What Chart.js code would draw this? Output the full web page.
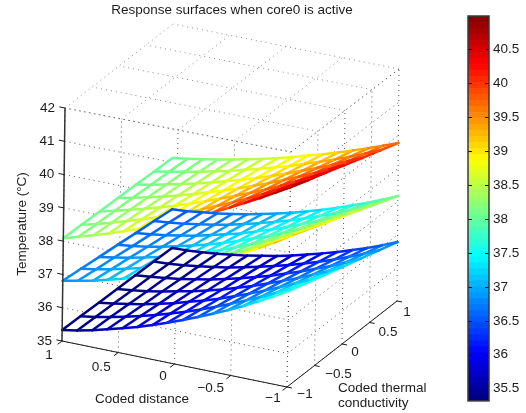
<!DOCTYPE html>
<html>
<head>
<meta charset="utf-8">
<style>
html,body{margin:0;padding:0;background:#fff;overflow:hidden}
#wrap{position:relative;width:526px;height:413px}
canvas{position:absolute;left:0;top:0}
</style>
<script src="https://cdn.jsdelivr.net/npm/chart.js@4/dist/chart.umd.min.js"></script>
</head>
<body>
<div id="wrap"><canvas id="main" width="526" height="413"></canvas><canvas id="bar" width="526" height="413"></canvas></div>
<script>
// ---- data ----
const titleText = 'Response surfaces when core0 is active';
const xLabelText = 'Coded distance';
const yLabelLines = ['Coded thermal', 'conductivity'];
const zLabelText = 'Temperature (°C)';
const xAxisTicks = [1, 0.5, 0, -0.5, -1];
const yAxisTicks = [-1, -0.5, 0, 0.5, 1];
const zAxisTicks = [35, 36, 37, 38, 39, 40, 41, 42];
const colorbarTicks = [35.5, 36, 36.5, 37, 37.5, 38, 38.5, 39, 39.5, 40, 40.5];
const colorMin = 35.32, colorMax = 40.99;

const xGrid = [1, .867, .733, .6, .467, .333, .2, .067, -.067, -.2, -.333, -.467, -.6, -.733, -.867, -1];
const yGrid = [-1, -.667, -.333, 0, .333, .667, 1];

const topSurface = [
 [38.09,38.22,38.36,38.50,38.66,38.82,38.99,39.18,39.37,39.57,39.77,39.99,40.22,40.45,40.70,40.95],
 [38.08,38.19,38.32,38.46,38.60,38.75,38.91,39.08,39.26,39.45,39.64,39.85,40.06,40.28,40.51,40.75],
 [38.06,38.17,38.29,38.41,38.54,38.68,38.83,38.99,39.16,39.33,39.51,39.70,39.90,40.11,40.33,40.56],
 [38.05,38.15,38.25,38.36,38.48,38.61,38.75,38.89,39.05,39.21,39.38,39.56,39.75,39.94,40.15,40.36],
 [38.04,38.12,38.22,38.32,38.42,38.54,38.67,38.80,38.94,39.09,39.25,39.42,39.59,39.77,39.97,40.16],
 [38.02,38.10,38.18,38.27,38.37,38.47,38.59,38.71,38.84,38.97,39.12,39.27,39.43,39.60,39.78,39.97],
 [38.01,38.07,38.14,38.22,38.31,38.40,38.50,38.61,38.73,38.86,38.99,39.13,39.28,39.43,39.60,39.77]
];
const midSurface = [
 [36.81,36.90,36.99,37.11,37.23,37.38,37.53,37.69,37.88,38.07,38.28,38.50,38.73,38.97,39.22,39.50],
 [36.76,36.83,36.92,37.03,37.14,37.28,37.42,37.58,37.74,37.92,38.11,38.32,38.55,38.78,39.02,39.28],
 [36.70,36.77,36.85,36.95,37.05,37.17,37.30,37.45,37.61,37.78,37.96,38.15,38.36,38.58,38.82,39.05],
 [36.65,36.70,36.77,36.86,36.96,37.07,37.19,37.32,37.47,37.63,37.79,37.98,38.17,38.39,38.61,38.84],
 [36.59,36.64,36.70,36.78,36.86,36.97,37.08,37.19,37.34,37.48,37.64,37.82,37.99,38.19,38.40,38.62],
 [36.54,36.58,36.63,36.70,36.77,36.86,36.97,37.08,37.20,37.33,37.48,37.64,37.81,38.00,38.19,38.39],
 [36.48,36.51,36.56,36.61,36.68,36.76,36.85,36.95,37.06,37.19,37.32,37.47,37.63,37.79,37.98,38.17]
];
const bottomSurface = [
 [35.33,35.41,35.51,35.63,35.75,35.88,36.03,36.19,36.36,36.54,36.73,36.93,37.14,37.37,37.61,37.86],
 [35.33,35.40,35.49,35.59,35.70,35.82,35.96,36.10,36.26,36.43,36.61,36.80,37.00,37.21,37.44,37.68],
 [35.33,35.39,35.47,35.55,35.65,35.76,35.89,36.02,36.16,36.32,36.49,36.67,36.86,37.06,37.27,37.50],
 [35.33,35.38,35.44,35.52,35.61,35.70,35.81,35.93,36.07,36.21,36.37,36.54,36.71,36.90,37.10,37.32],
 [35.33,35.37,35.42,35.48,35.56,35.64,35.74,35.85,35.97,36.10,36.25,36.40,36.57,36.74,36.94,37.14],
 [35.33,35.35,35.39,35.45,35.51,35.58,35.67,35.77,35.88,36.00,36.13,36.27,36.42,36.59,36.77,36.96],
 [35.33,35.34,35.37,35.41,35.46,35.52,35.60,35.68,35.78,35.89,36.01,36.14,36.28,36.43,36.60,36.78]
];

// ---- view: screen position of the eight corners of the axes box ----
const Z0 = 35, Z1 = 42;
const box = {
  '-1,-1,0':[287,387], '-1,-1,1':[291,152],
  '1,-1,0':[62,341],   '1,-1,1':[65,108],
  '-1,1,0':[397,301],  '-1,1,1':[399,69],
  '1,1,0':[172,259],   '1,1,1':[173,24]
};
function project(x, y, z) {
  const tx = (x + 1) / 2, ty = (y + 1) / 2, tz = (z - Z0) / (Z1 - Z0);
  let px = 0, py = 0;
  for (const i of [0, 1]) for (const j of [0, 1]) for (const k of [0, 1]) {
    const w = (i ? tx : 1 - tx) * (j ? ty : 1 - ty) * (k ? tz : 1 - tz);
    const c = box[(i ? 1 : -1) + ',' + (j ? 1 : -1) + ',' + k];
    px += w * c[0]; py += w * c[1];
  }
  return { x: px, y: py };
}
const pt = (x, y, z) => Object.assign(project(x, y, z), { z });

function jet(z) {
  const v = Math.min(1, Math.max(0, (z - colorMin) / (colorMax - colorMin)));
  const cl = a => Math.round(255 * Math.min(1, Math.max(0, a)));
  return `rgb(${cl(Math.min(4*v-1.5, -4*v+4.5))},${cl(Math.min(4*v-.5, -4*v+3.5))},${cl(Math.min(4*v+.5, -4*v+2.5))})`;
}

const list = [];
function addLine(points, color, width, dash) {
  list.push({ data: points, showLine: true, pointRadius: 0, pointHoverRadius: 0, fill: false,
    borderColor: color, borderWidth: width, borderDash: dash || [], tension: 0, clip: false });
}
// dotted grid on the three far planes
const DOT = '#555';
const steps = xAxisTicks;
for (const v of steps) {
  addLine([pt(v, -1, Z1), pt(v, 1, Z1)], '#8a8a8a', 1, [1, 4]);
  addLine([pt(-1, v, Z1), pt(1, v, Z1)], '#8a8a8a', 1, [1, 4]);
  addLine([pt(v, -1, Z0), pt(v, -1, Z1)], DOT, 1, [1, 4]);
  addLine([pt(-1, v, Z0), pt(-1, v, Z1)], DOT, 1, [1, 4]);
}
for (const z of zAxisTicks) {
  addLine([pt(1, -1, z), pt(-1, -1, z)], DOT, 1, [1, 4]);
  addLine([pt(-1, -1, z), pt(-1, 1, z)], DOT, 1, [1, 4]);
}
// mesh surfaces, farthest first
function addSurface(s) {
  const rows = s.length, cols = s[0].length, outline = [];
  for (let c = 0; c < cols; c++) outline.push(pt(xGrid[c], yGrid[0], s[0][c]));
  for (let r = 1; r < rows; r++) outline.push(pt(xGrid[cols-1], yGrid[r], s[r][cols-1]));
  for (let c = cols - 2; c >= 0; c--) outline.push(pt(xGrid[c], yGrid[rows-1], s[rows-1][c]));
  for (let r = rows - 2; r > 0; r--) outline.push(pt(xGrid[0], yGrid[r], s[r][0]));
  outline.push(outline[0]);
  list.push({ data: outline, showLine: true, pointRadius: 0, borderWidth: 0, tension: 0, clip: false,
    fill: { target: 'shape' }, backgroundColor: '#fff', borderColor: 'rgba(0,0,0,0)' });
  const seg = { borderColor: c => {
    const d = c.chart.data.datasets[c.datasetIndex].data;
    return jet((d[c.p0DataIndex].z + d[c.p1DataIndex].z) / 2);
  } };
  const meshLine = pts => {
    list.push({ data: pts, showLine: true, pointRadius: 0, borderWidth: 2.5, tension: 0, clip: false,
      fill: false, borderColor: '#000', borderCapStyle: 'round', segment: seg });
  };
  for (let c = cols - 1; c >= 0; c--) meshLine(s.map((row, r) => pt(xGrid[c], yGrid[r], row[c])));
  for (let r = 0; r < rows; r++) meshLine(s[r].map((z, c) => pt(xGrid[c], yGrid[r], z)));
}
addSurface(topSurface);
addSurface(midSurface);
addSurface(bottomSurface);
// axis lines and ticks
const AX = '#1a1a1a';
addLine([pt(1, -1, Z0), pt(1, -1, Z1)], '#333', 1.5);
addLine([pt(1, -1, Z0), pt(-1, -1, Z0)], AX, 1);
addLine([pt(-1, -1, Z0), pt(-1, 1, Z0)], AX, 1);
for (const v of xAxisTicks) addLine([pt(v, -1, Z0), pt(v, -1.08, Z0)], AX, 1);
for (const v of yAxisTicks) addLine([pt(-1, v, Z0), pt(-1.045, v, Z0)], AX, 1);
for (const z of zAxisTicks) addLine([pt(1, -1, z), pt(1.05, -1, z)], AX, 1);
list.forEach((d, i) => { d.order = list.length - i; });

const INK = '#1c1c1c', FONT = 'Liberation Sans, Arial, sans-serif';
// label offsets from the tick position on the axis
const xLabelNudge = [[-13,14],[-17,14.5],[-11.5,12],[-20,12.5],[-14,11]];
const yLabelNudge = [[18,7],[24,8.5],[13,8],[18.5,9.5],[10,11]];
const fmt = v => String(v).replace('-', '\u2212');

const textPlugin = { id: 'text3d', afterDraw(chart) {
  const c = chart.ctx;
  c.save();
  c.fillStyle = INK;
  c.textBaseline = 'middle';
  c.textAlign = 'center';
  c.font = '13.5px ' + FONT;
  c.fillText(titleText, 232, 10);
  c.font = '13.5px ' + FONT;
  xAxisTicks.forEach((v, i) => {
    const p = project(v, -1, Z0);
    c.fillText(fmt(v), p.x + xLabelNudge[i][0], p.y + xLabelNudge[i][1]);
  });
  yAxisTicks.forEach((v, i) => {
    const p = project(-1, v, Z0);
    c.fillText(fmt(v), p.x + yLabelNudge[i][0], p.y + yLabelNudge[i][1]);
  });
  c.textAlign = 'right';
  zAxisTicks.forEach(z => {
    const p = project(1, -1, z);
    c.fillText(String(z), p.x - 10, p.y);
  });
  c.textAlign = 'center';
  c.fillText(xLabelText, 142, 399);
  c.textAlign = 'left';
  c.fillText(yLabelLines[0], 338, 388);
  c.fillText(yLabelLines[1], 338, 403);
  c.save();
  c.translate(22, 224);
  c.rotate(-Math.PI / 2);
  c.textAlign = 'center';
  c.fillText(zLabelText, 0, 0);
  c.restore();
  c.restore();
} };

new Chart(document.getElementById('main'), {
  type: 'scatter',
  data: { datasets: list },
  options: {
    responsive: false, animation: false, events: [],
    layout: { padding: 0 },
    plugins: { legend: { display: false }, tooltip: { enabled: false } },
    scales: {
      x: { type: 'linear', min: 0, max: 526, display: false },
      y: { type: 'linear', min: 0, max: 413, reverse: true, display: false }
    }
  },
  plugins: [textPlugin]
});

// ---- colour bar: 64 flat bands on a real value axis ----
const bandCount = 64;
const bandDatasets = [];
for (let i = 0; i < bandCount; i++) {
  const lo = colorMin + (colorMax - colorMin) * i / bandCount;
  const hi = colorMin + (colorMax - colorMin) * (i + 1) / bandCount;
  bandDatasets.push({ data: [[lo, hi]], backgroundColor: jet((lo + hi) / 2), borderWidth: 0,
    barPercentage: 1, categoryPercentage: 1, grouped: false });
}
const barFrame = { id: 'barFrame', afterDraw(chart) {
  const c = chart.ctx, a = chart.chartArea, s = chart.scales.y;
  c.save();
  c.strokeStyle = '#111'; c.lineWidth = 1;
  c.beginPath();
  colorbarTicks.forEach(v => {
    const y = Math.round(s.getPixelForValue(v)) + .5;
    c.moveTo(a.left, y); c.lineTo(a.left + 4, y);
    c.moveTo(a.right - 4, y); c.lineTo(a.right, y);
  });
  c.stroke();
  c.strokeStyle = '#3a3a3a'; c.lineWidth = 1.5;
  c.strokeRect(a.left, a.top, a.right - a.left, a.bottom - a.top);
  c.restore();
} };
new Chart(document.getElementById('bar'), {
  type: 'bar',
  data: { labels: ['level'], datasets: bandDatasets },
  options: {
    responsive: false, animation: false, events: [],
    layout: { padding: { left: 468, top: 16, bottom: 10, right: 0 } },
    plugins: { legend: { display: false }, tooltip: { enabled: false } },
    scales: {
      x: { display: false, offset: true, grid: { display: false } },
      y: {
        position: 'right', min: colorMin, max: colorMax,
        afterBuildTicks: s => { s.ticks = colorbarTicks.map(value => ({ value })); },
        afterFit: s => { s.width = 37; },
        border: { display: false },
        grid: { display: false, drawTicks: false },
        ticks: { color: INK, font: { family: FONT, size: 13.5 }, padding: 4, callback: v => String(v), autoSkip: false, maxRotation: 0 }
      }
    }
  },
  plugins: [barFrame]
});
</script>
</body>
</html>
